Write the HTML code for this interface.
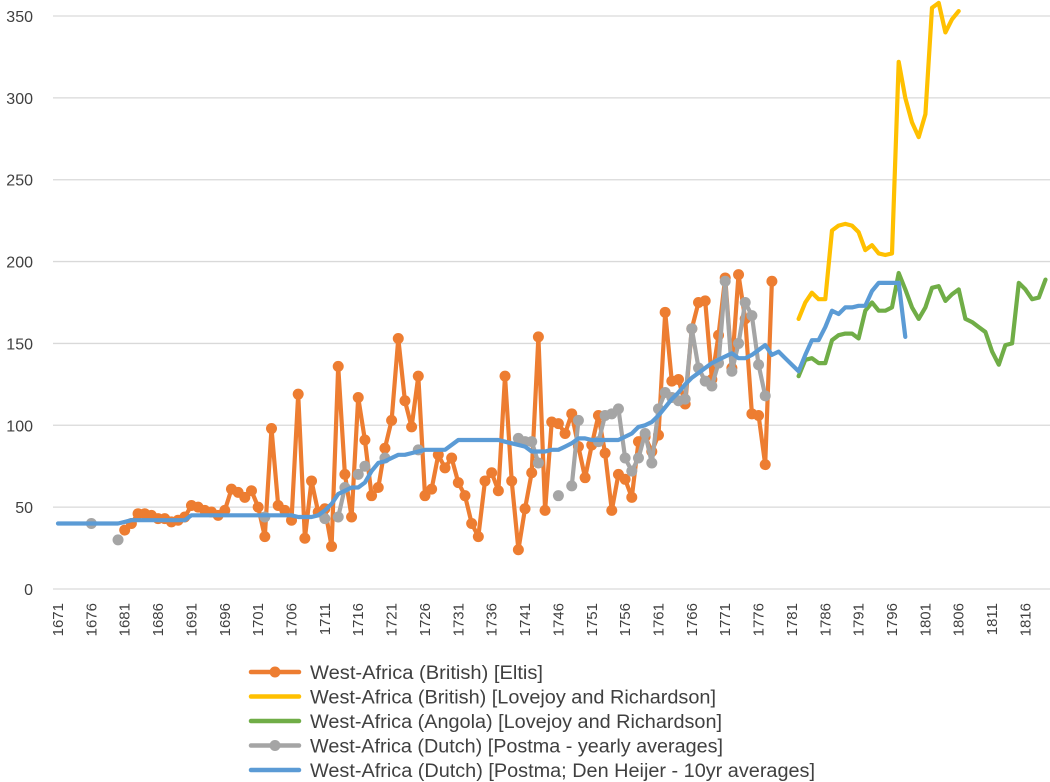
<!DOCTYPE html>
<html><head><meta charset="utf-8">
<style>
html,body{margin:0;padding:0;background:#fff;}
svg{display:block;font-family:"Liberation Sans",sans-serif;}
</style></head>
<body>
<svg id="chart" width="1050" height="782" viewBox="0 0 1050 782" xmlns="http://www.w3.org/2000/svg"></svg>
<script>
const startYear = 1671;
const endYear = 1820;
const yTicks = [0,50,100,150,200,250,300,350];
const xTickYears = [1671,1676,1681,1686,1691,1696,1701,1706,1711,1716,1721,1726,1731,1736,1741,1746,1751,1756,1761,1766,1771,1776,1781,1786,1791,1796,1801,1806,1811,1816];

const britishEltisStart = 1681;
const britishEltis = [36,40,46,46,45,43,43,41,42,44,51,50,48,47,45,48,61,59,56,60,50,32,98,51,48,42,119,31,66,47,49,26,136,70,44,117,91,57,62,86,103,153,115,99,130,57,61,82,74,80,65,57,40,32,66,71,60,130,66,24,49,71,154,48,102,101,95,107,87,68,88,106,83,48,70,67,56,90,93,84,94,169,127,128,113,159,175,176,128,155,190,135,192,165,107,106,76,188];

const britishLRStart = 1782;
const britishLR = [165,175,181,177,177,219,222,223,222,218,207,210,205,204,205,322,300,285,276,290,355,358,340,348,353];

const angolaLRStart = 1782;
const angolaLR = [130,140,141,138,138,152,155,156,156,153,170,175,170,170,172,193,183,172,165,172,184,185,176,180,183,165,163,160,157,145,137,149,150,187,183,177,178,189];

const dutchYearlyYears = [1676,1680,1702,1711,1713,1714,1716,1717,1720,1725,1740,1741,1742,1743,1746,1748,1749,1752,1753,1754,1755,1756,1757,1758,1759,1760,1761,1762,1763,1764,1765,1766,1767,1768,1769,1770,1771,1772,1773,1774,1775,1776,1777];
const dutchYearly = [40,30,44,43,44,62,70,75,80,85,92,90,90,77,57,63,103,90,106,107,110,80,72,80,95,77,110,120,117,115,116,159,135,127,124,138,188,133,150,175,167,137,118];

const dutch10yrStart = 1671;
const dutch10yr = [40,40,40,40,40,40,40,40,40,40,
41,42,42,42,42,42,42,42,42,42,
45,45,45,45,45,45,45,45,45,45,45,45,45,45,45,45,44,44,44,45,
48,52,58,60,62,62,65,72,77,78,
80,82,82,83,84,85,85,85,85,88,
91,91,91,91,91,91,91,90,89,88,
87,84,84,84,85,85,87,89,92,92,
91,91,91,91,91,93,95,
99,100,102,106,111,116,120,125,129,132,135,138,140,142,144,141,141,143,146,149,143,145,141,137,133,143,152,152,160,170,168,172,172,173,173,182,187,187,187,187,154];

const svg = document.getElementById('chart');
const NS = 'http://www.w3.org/2000/svg';
const x0 = 58, pxPerYear = 6.672;
const yZero = 589, pxPerUnit = 573/350;
const X = yr => x0 + (yr - startYear) * pxPerYear;
const Y = v => yZero - v * pxPerUnit;

function mk(tag, attrs, parent){
  const e = document.createElementNS(NS, tag);
  for (const k in attrs) e.setAttribute(k, attrs[k]);
  (parent||svg).appendChild(e);
  return e;
}

const grid = mk('g', {});


yTicks.forEach(t => {
  const l = mk('line', {x1:53, x2:1050, y1:Y(t), y2:Y(t), stroke:'#d9d9d9', 'stroke-width':1.3}, grid);
  
  
  const tx = mk('text', {x:33, y:Y(t)+6, 'text-anchor':'end', 'font-size':16, fill:'#404040'}, grid);
  tx.textContent = t;
  
  
});

const xl = mk('g', {});


xTickYears.forEach(yr => {
  const tx = mk('text', {x:0, y:0, 'text-anchor':'end', 'font-size':15, fill:'#404040',
    transform:'translate(' + (X(yr)+5) + ',603) rotate(-90)'}, xl);
  tx.textContent = yr;
  
  
});

function seriesPts(start, vals){ return vals.map((v,i)=>[X(start+i), Y(v)]); }
function drawLine(pts, color, name, markers){
  const g = mk('g', {});
  
  
  mk('polyline', {points: pts.map(p=>p[0].toFixed(1)+','+p[1].toFixed(1)).join(' '), fill:'none', stroke:color, 'stroke-width':4.2, 'stroke-linejoin':'round', 'stroke-linecap':'round'}, g);
  if (markers) pts.forEach(p => {
    const c = mk('circle', {cx:p[0], cy:p[1], r:5.5, fill:color}, g);
    
    
  });
}

drawLine(seriesPts(britishEltisStart, britishEltis), '#ed7d31', 'series-british-eltis', true);
drawLine(seriesPts(britishLRStart, britishLR), '#ffc000', 'series-british-lovejoy', false);
drawLine(seriesPts(angolaLRStart, angolaLR), '#70ad47', 'series-angola-lovejoy', false);
(function(){
  const g = mk('g', {});
  
  
  for (let i=1;i<dutchYearlyYears.length;i++){
    if (dutchYearlyYears[i]-dutchYearlyYears[i-1]===1){
      mk('line', {x1:X(dutchYearlyYears[i-1]), y1:Y(dutchYearly[i-1]), x2:X(dutchYearlyYears[i]), y2:Y(dutchYearly[i]), stroke:'#a5a5a5', 'stroke-width':4.2, 'stroke-linecap':'round'}, g);
    }
  }
  dutchYearlyYears.forEach((yr,i)=>{
    const c = mk('circle', {cx:X(yr), cy:Y(dutchYearly[i]), r:5.5, fill:'#a5a5a5'}, g);
    
    
  });
})();
drawLine(seriesPts(dutch10yrStart, dutch10yr), '#5b9bd5', 'series-dutch-10yr', false);

const legendItems = [
  ['West-Africa (British) [Eltis]', '#ed7d31', true, 233],
  ['West-Africa (British) [Lovejoy and Richardson]', '#ffc000', false, 406],
  ['West-Africa (Angola) [Lovejoy and Richardson]', '#70ad47', false, 412],
  ['West-Africa (Dutch) [Postma - yearly averages]', '#a5a5a5', true, 413],
  ['West-Africa (Dutch) [Postma; Den Heijer - 10yr averages]', '#5b9bd5', false, 505]
];
const lg = mk('g', {});


legendItems.forEach((it,i)=>{
  const y = 672 + i*24.5;
  const e = mk('g', {}, lg);
  
  
  mk('line', {x1:251, x2:299, y1:y, y2:y, stroke:it[1], 'stroke-width':4.5, 'stroke-linecap':'round'}, e);
  if (it[2]) mk('circle', {cx:275, cy:y, r:5.5, fill:it[1]}, e);
  const t = mk('text', {x:310, y:y+7, 'font-size':19, fill:'#404040', textLength:it[3], lengthAdjust:'spacingAndGlyphs'}, e);
  t.textContent = it[0];
});
</script>
</body></html>
